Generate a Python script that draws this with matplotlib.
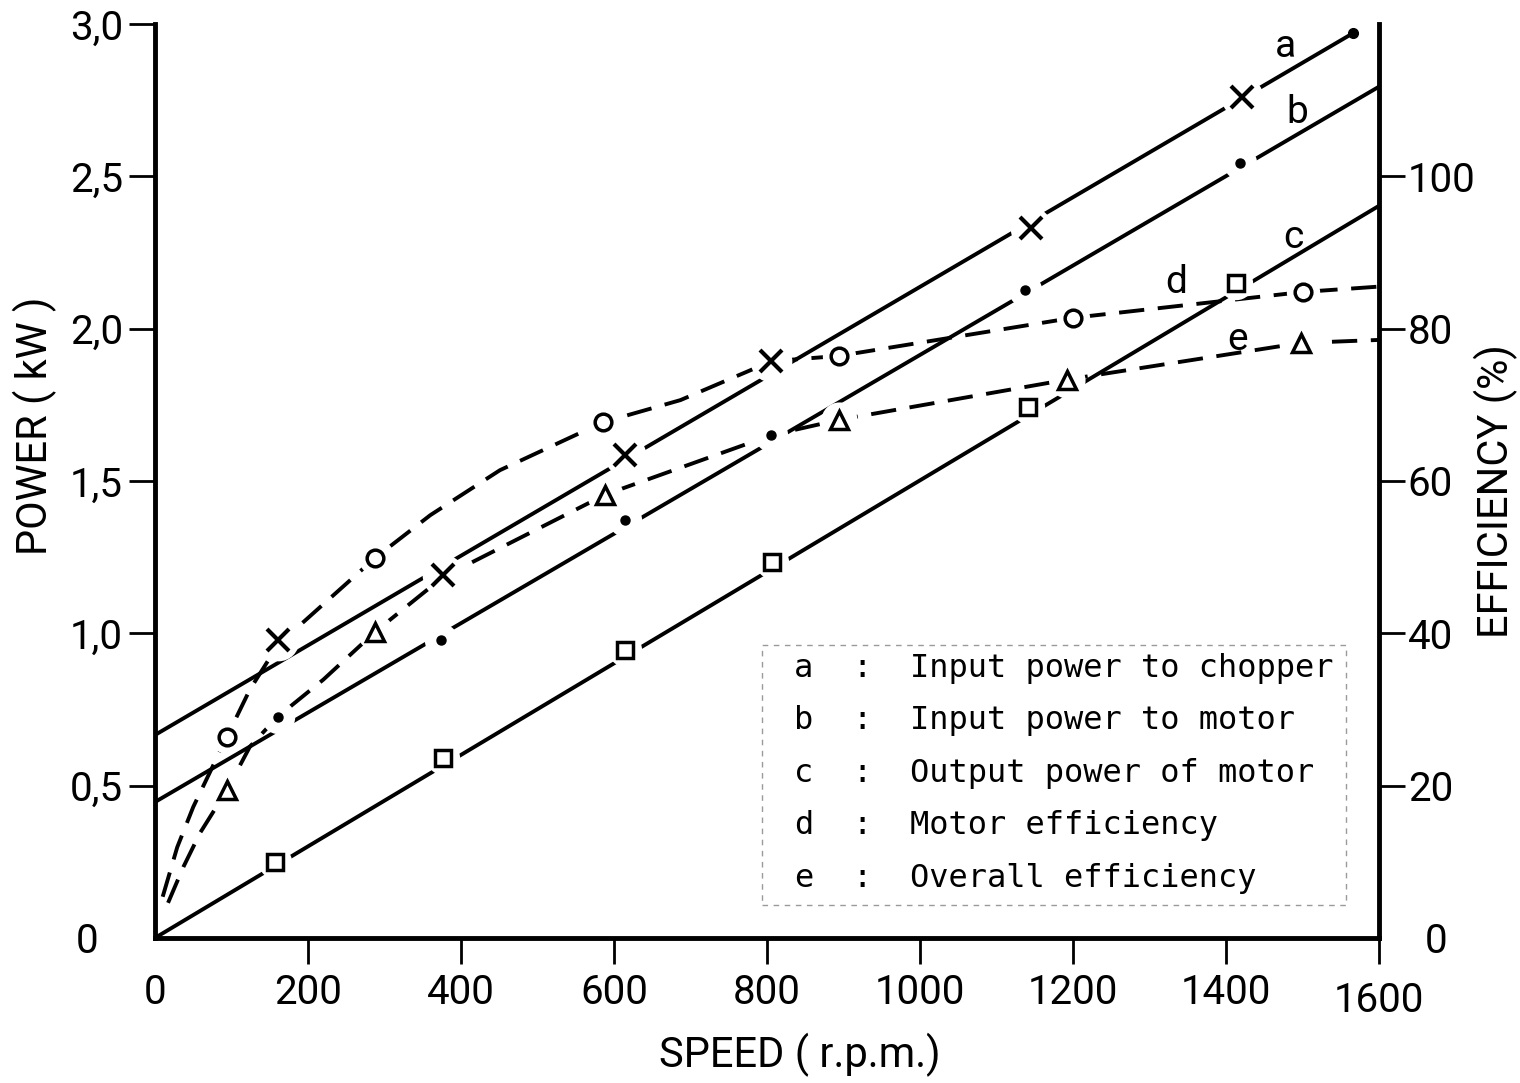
import matplotlib

matplotlib.use("Agg")

import matplotlib.pyplot as plt
from matplotlib.patches import Rectangle

# straight power lines (kW), read at their two ends
a_line_speed = [0, 1567]
a_line_power = [0.666, 2.970]
b_line_speed = [0, 1600]
b_line_power = [0.446, 2.793]
c_line_speed = [0, 1600]
c_line_power = [0.0, 2.402]

# measured points (kW)
a_speed = [161, 377, 615, 806, 1145, 1421]
a_power = [0.978, 1.191, 1.585, 1.894, 2.330, 2.760]
b_speed = [161, 374, 615, 806, 1138, 1419]
b_power = [0.725, 0.978, 1.372, 1.651, 2.127, 2.544]
c_speed = [157, 377, 615, 807, 1141, 1414]
c_power = [0.249, 0.591, 0.945, 1.234, 1.743, 2.150]

# efficiency points (%)
d_speed = [94, 288, 586, 894, 1200, 1501]
d_eff = [26.4, 49.9, 67.7, 76.4, 81.4, 84.8]
e_speed = [94, 288, 589, 894, 1193, 1498]
e_eff = [19.4, 40.2, 58.2, 68.0, 73.3, 78.1]

# traced dashed curves (%)
d_curve_speed = [10, 29, 50, 94, 124, 161, 288, 360, 451, 586, 687, 806, 894, 1200, 1501, 1600]
d_curve_eff = [5.4, 11.9, 17.2, 26.4, 32.6, 38.5, 49.9, 55.5, 61.4, 67.7, 70.6, 75.7, 76.4, 81.4, 84.8, 85.5]
e_curve_speed = [17, 37, 59, 94, 124, 160, 220, 288, 377, 589, 806, 894, 1193, 1498, 1600]
e_curve_eff = [4.6, 9.3, 13.8, 19.4, 25.1, 29.0, 33.9, 40.2, 47.4, 58.2, 66.0, 68.0, 73.3, 78.1, 78.5]

x_ticks = [0, 200, 400, 600, 800, 1000, 1200, 1400, 1600]
power_ticks = [0, 0.5, 1.0, 1.5, 2.0, 2.5, 3.0]
power_labels = ["0", "0,5", "1,0", "1,5", "2,0", "2,5", "3,0"]
eff_ticks = [0, 20, 40, 60, 80, 100]

legend_keys = ["a", "b", "c", "d", "e"]
legend_texts = [
    "Input power to chopper",
    "Input power to motor",
    "Output power of motor",
    "Motor efficiency",
    "Overall efficiency",
]

FONT = "Roboto"
MONO = "DejaVu Sans Mono"
LW = 2.8

plt.rcParams.update({"font.family": FONT})

fig = plt.figure(figsize=(15.2, 10.83), dpi=100)
ax = fig.add_axes([0.102, 0.134, 0.805, 0.844])
ax2 = ax.twinx()

ax.set_xlim(0, 1600)
ax.set_ylim(0, 3.0)
ax2.set_ylim(0, 120)

# straight lines
for xs, ys in [(a_line_speed, a_line_power), (b_line_speed, b_line_power), (c_line_speed, c_line_power)]:
    ax.plot(xs, ys, color="black", lw=LW, solid_capstyle="round")
ax.plot(a_line_speed[-1], a_line_power[-1], "o", color="black", ms=7)

# efficiency curves
ax2.plot(d_curve_speed, d_curve_eff, color="black", lw=LW, dashes=(6.5, 3.5))
ax2.plot(e_curve_speed, e_curve_eff, color="black", lw=LW, dashes=(6.5, 3.5))

# white masks around every marker to break the lines, then markers
groups = [
    (a_speed, a_power, ax.transData, "x", 16, 30),
    (b_speed, b_power, ax.transData, "o", 6.5, 24),
    (c_speed, c_power, ax.transData, "s", 12, 24),
    (d_speed, d_eff, ax2.transData, "o", 12, 24),
    (e_speed, e_eff, ax2.transData, "^", 13, 26),
]
for xs, ys, tr, m, ms, mask in groups:
    ax2.plot(xs, ys, "o", ms=mask, mfc="white", mec="none", transform=tr, zorder=4)
for xs, ys, tr, m, ms, mask in groups:
    if m == "x":
        ax2.plot(xs, ys, m, ms=ms, mec="black", mew=3, transform=tr, zorder=5)
    elif m == "o" and ms < 8:
        ax2.plot(xs, ys, m, ms=ms, mfc="black", mec="black", transform=tr, zorder=5)
    else:
        ax2.plot(xs, ys, m, ms=ms, mfc="white", mec="black", mew=2.5, transform=tr, zorder=5)

# curve letters
for key, (x, y) in zip(legend_keys, [(1478, 2.925), (1493, 2.71), (1488, 2.30), (1335, 2.15), (1416, 1.965)]):
    ax.text(x, y, key, fontsize=28, ha="center", va="center")

# spines and ticks
ax.spines["top"].set_visible(False)
ax2.spines["top"].set_visible(False)
for s in ["left", "bottom"]:
    ax.spines[s].set_linewidth(3.5)
ax2.spines["right"].set_linewidth(3.5)
ax2.spines["left"].set_visible(False)
ax2.spines["bottom"].set_visible(False)

ax.set_xticks(x_ticks)
ax.set_xticklabels([str(v) for v in x_ticks])
ax.set_yticks(power_ticks)
ax.set_yticklabels(power_labels)
ax2.set_yticks(eff_ticks)
ax2.set_yticklabels([str(v) for v in eff_ticks])

ax.tick_params(axis="both", direction="out", length=19, width=2, labelsize=29, pad=4)
ax.tick_params(axis="x", pad=6)
ax2.tick_params(axis="y", direction="out", length=19, width=2, labelsize=29, pad=2)
ax.xaxis.get_major_ticks()[0].tick1line.set_visible(False)
ax.yaxis.get_major_ticks()[0].tick1line.set_visible(False)
ax2.yaxis.get_major_ticks()[0].tick2line.set_visible(False)
# the zero labels sit a little apart from the others
ax.yaxis.get_major_ticks()[0].set_pad(22)
ax2.yaxis.get_major_ticks()[0].set_pad(14)
ax.xaxis.get_major_ticks()[-1].set_pad(12)

fig.text(0.526, 0.026, "SPEED ( r.p.m.)", fontsize=30, ha="center", va="center")
fig.text(0.023, 0.607, "POWER ( kW )", fontsize=30, ha="center", va="center", rotation=90)
fig.text(0.984, 0.547, "EFFICIENCY (%)", fontsize=30, ha="center", va="center", rotation=90)

# legend box
ax.add_patch(Rectangle((0.496, 0.036), 0.477, 0.284, transform=ax.transAxes, fill=False,
                       ec="#9a9a9a", lw=1.0, ls=(0, (4, 4)), zorder=2))
rows = [0.295, 0.238, 0.180, 0.123, 0.0655]
for key, txt, y in zip(legend_keys, legend_texts, rows):
    ax.text(0.530, y, key, transform=ax.transAxes, fontsize=23, family=MONO, va="center", ha="center")
    ax.text(0.578, y, ":", transform=ax.transAxes, fontsize=23, family=MONO, va="center", ha="center")
    ax.text(0.617, y, txt, transform=ax.transAxes, fontsize=23, family=MONO, va="center", ha="left")

fig.savefig("out.png", dpi=100, facecolor="white")
